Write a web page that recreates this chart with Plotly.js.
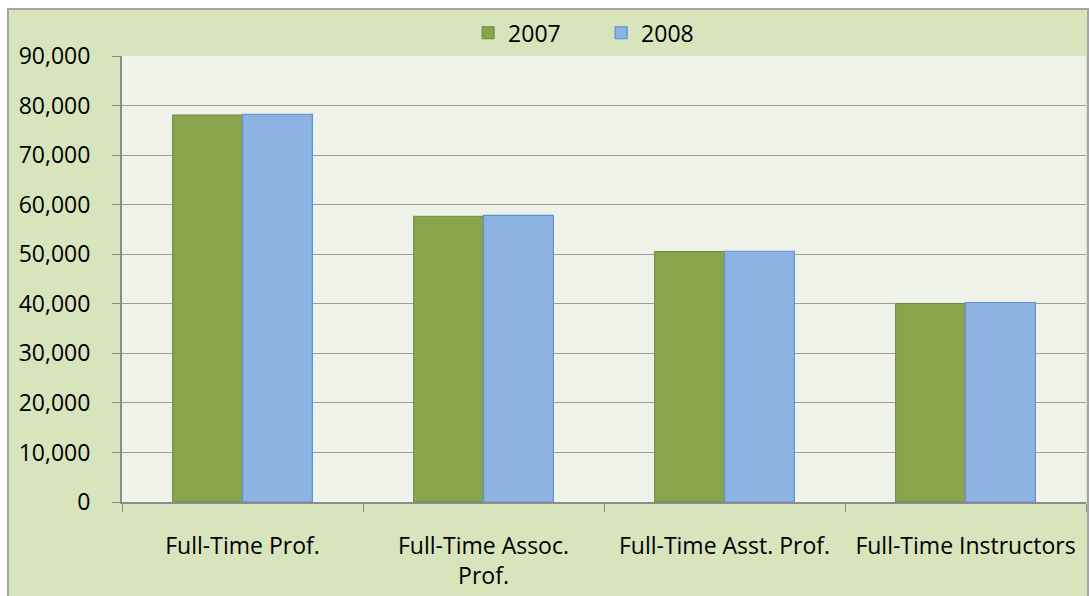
<!DOCTYPE html>
<html>
<head>
<meta charset="utf-8">
<script src="https://cdn.plot.ly/plotly-3.0.1.min.js"></script>
<style>
  html, body { margin: 0; padding: 0; background: #ffffff; overflow: hidden; }
  #frame { position: absolute; left: 7px; top: 8px; width: 1078px; height: 600px;
           border: 2px solid #a6a6a6; background: #d8e4bc; }
  #chart { width: 1078px; height: 600px; }
</style>
</head>
<body>
<div id="frame"><div id="chart"></div></div>
<script>
const categories = ["Full-Time Prof.", "Full-Time Assoc.<br>Prof.", "Full-Time Asst. Prof.", "Full-Time Instructors"];
const seriesNames = ["2007", "2008"];
const values2007 = [78100, 57650, 50550, 40060];
const values2008 = [78250, 57850, 50600, 40260];
const yTickVals = [0, 10000, 20000, 30000, 40000, 50000, 60000, 70000, 80000, 90000];
const yTickText = ["0", "10,000", "20,000", "30,000", "40,000", "50,000", "60,000", "70,000", "80,000", "90,000"];

const font = "Open Sans, Noto Sans, sans-serif";
const fs = 23;

const data = [
  { type: "bar", name: seriesNames[0], x: categories, y: values2007,
    marker: { color: "#88a44c", line: { color: "#71893f", width: 1 } }, hoverinfo: "none" },
  { type: "bar", name: seriesNames[1], x: categories, y: values2008,
    marker: { color: "#8db3e2", line: { color: "#5e8fd4", width: 1.2 } }, hoverinfo: "none" }
];

const layout = {
  width: 1078, height: 600,
  margin: { l: 113, r: 1, t: 46, b: 108 },
  paper_bgcolor: "#d8e4bc",
  plot_bgcolor: "#eff2e9",
  barmode: "group",
  bargap: 0.42,
  bargroupgap: 0,
  font: { family: font, size: fs, color: "#000000" },
  showlegend: true,
  legend: { orientation: "h", x: 0.497, xanchor: "center", y: 1.052, yanchor: "middle",
            bgcolor: "rgba(0,0,0,0)", font: { family: font, size: fs, color: "#000" },
            itemwidth: 30, tracegroupgap: 0, entrywidth: 88 },
  xaxis: {
    type: "category",
    showline: true, linecolor: "#8c8c8c", linewidth: 2,
    ticks: "outside", tickson: "boundaries", ticklen: 8, tickcolor: "#8c8c8c", tickwidth: 1,
    showgrid: false, zeroline: false,
    ticklabelstandoff: 22,
    tickfont: { family: font, size: fs, color: "#000" }
  },
  yaxis: {
    range: [0, 90000],
    tickvals: yTickVals, ticktext: yTickText,
    showline: true, linecolor: "#8c8c8c", linewidth: 2,
    ticks: "outside", ticklen: 8, tickcolor: "#8c8c8c", tickwidth: 1,
    showgrid: true, gridcolor: "#9c9c9c", gridwidth: 1,
    zeroline: false,
    ticklabelstandoff: 17,
    tickfont: { family: font, size: fs, color: "#000" }
  }
};

Plotly.newPlot("chart", data, layout, { displayModeBar: false, staticPlot: true });
</script>
</body>
</html>
